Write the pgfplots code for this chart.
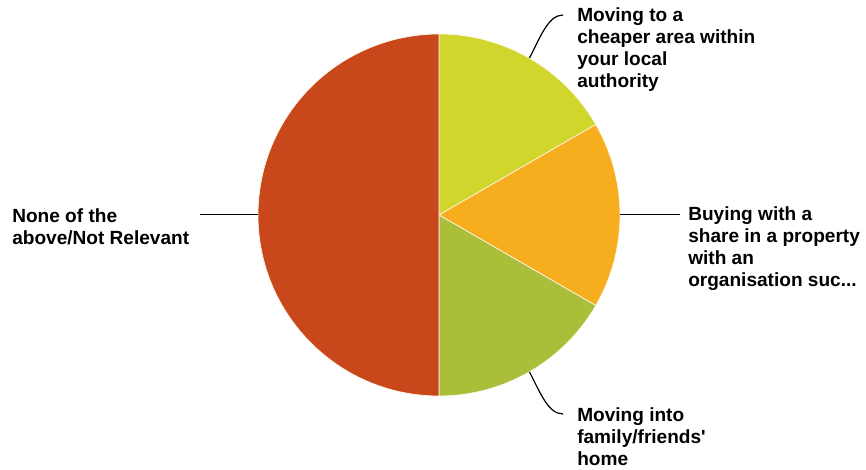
\documentclass[border=0pt]{standalone}
\usepackage{pgfplots}
\usepackage{pgfplotstable}
\pgfplotsset{compat=1.18}
\usepackage{fontspec}
\setmainfont{Liberation Sans}
\newfontfamily\qfont{Liberation Sans}
\definecolor{slice0}{HTML}{D0D62B}
\definecolor{slice1}{HTML}{F6AE1E}
\definecolor{slice2}{HTML}{ABBE3A}
\definecolor{slice3}{HTML}{C8471B}
\pgfplotstableread{
value
16.6667
16.6667
16.6667
50
}\piedata
\begin{document}
\begin{tikzpicture}
\begin{axis}[
  scale only axis, width=649.5pt, height=352.5pt,
  xmin=0, xmax=866, ymin=0, ymax=470,
  hide axis, clip=false,
]
\xdef\startangle{90}
\pgfplotsinvokeforeach{0,1,2,3}{
  \pgfplotstablegetelem{#1}{value}\of\piedata
  \pgfmathsetmacro{\sweep}{\pgfplotsretval*3.6}
  \pgfmathsetmacro{\endangle}{\startangle-\sweep}
  \edef\doslice{\noexpand\fill[slice#1, draw=white!90!slice1, line width=0.5pt, line join=round]
    (axis cs:439,255) -- ([shift={(\startangle:135.75pt)}]axis cs:439,255)
    arc[start angle=\startangle, end angle=\endangle, radius=135.75pt] -- cycle;}
  \doslice
  \xdef\startangle{\endangle}
}
% leader lines
\draw[black, line width=0.9pt] (axis cs:529.5,412) .. controls (axis cs:540,432) and (axis cs:548,455) .. (axis cs:563,455);
\draw[black, line width=0.9pt] (axis cs:620,255.5) -- (axis cs:680,255.5);
\draw[black, line width=0.9pt] (axis cs:258,255.5) -- (axis cs:200,255.5);
\draw[black, line width=0.9pt] (axis cs:529.5,98) .. controls (axis cs:540,78) and (axis cs:548,56) .. (axis cs:563,56);
% labels
\tikzset{lbl/.style={anchor=north west, inner sep=0pt, align=left, font=\fontsize{14.3pt}{16.5pt}\selectfont\bfseries}}
\node[lbl] at (axis cs:577,463) {Moving to a\\cheaper area within\\your local\\authority};
\node[lbl] at (axis cs:688,264) {Buying with a\\share in a property\\with an\\organisation suc...};
\node[lbl] at (axis cs:12,262) {None of the\\above/Not Relevant};
\node[lbl] at (axis cs:577,63) {Moving into\\family/friends{\qfont\bfseries '}\\home};
\end{axis}
\pgfresetboundingbox
\path (0,0) rectangle (649.5pt,352.5pt);
\end{tikzpicture}
\end{document}
